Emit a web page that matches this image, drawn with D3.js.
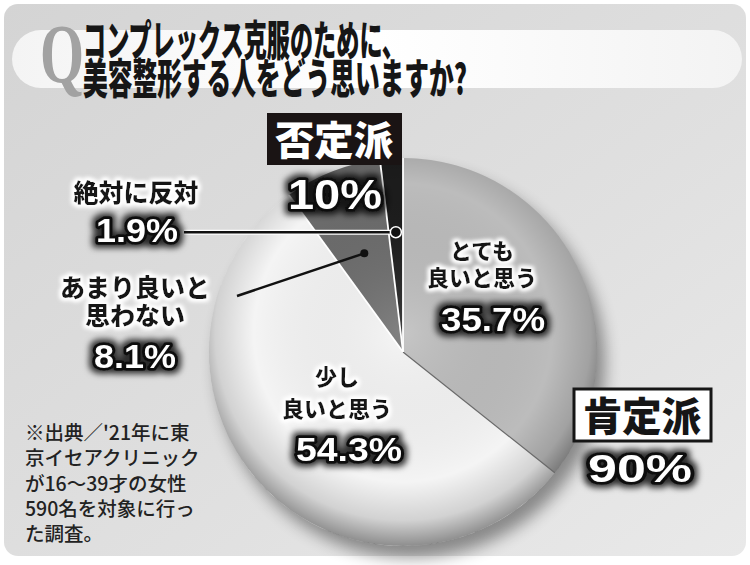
<!DOCTYPE html>
<html>
<head>
<meta charset="utf-8">
<script src="https://cdn.jsdelivr.net/npm/d3@7"></script>
<style>
  body { margin: 0; background: #fff; }
  svg { display: block; }
</style>
</head>
<body>
<div id="chart"></div>
<script>
// Chart data
var categories = ["とても良いと思う", "少し良いと思う", "あまり良いと思わない", "絶対に反対"];
var values = [35.7, 54.3, 8.1, 1.9];
var sliceColors = ["#bcbcbc", "#f4f4f4", "#6c6c6c", "#1c1c1c"];
var groupNames = ["肯定派", "否定派"];
var groupValues = [90, 10];
var titleLines = ["コンプレックス克服のために、", "美容整形する人をどう思いますか?"];
var noteLines = ["※出典／'21年に東", "京イセアクリニック", "が16～39才の女性", "590名を対象に行っ", "た調査。"];

var width = 750, height = 565;
var cx = 403, cy = 352, radius = 194;
var jp = "'Noto Sans CJK JP', 'Noto Sans', sans-serif";
var num = "'Liberation Sans', Arial, sans-serif";

var svg = d3.select("#chart").append("svg")
  .attr("width", width)
  .attr("height", height);

var defs = svg.append("defs");

// background gradient
var bgGrad = defs.append("linearGradient").attr("id", "bg")
  .attr("x1", "0%").attr("y1", "0%").attr("x2", "100%").attr("y2", "100%");
bgGrad.append("stop").attr("offset", "0%").attr("stop-color", "#d4d4d4");
bgGrad.append("stop").attr("offset", "60%").attr("stop-color", "#e0e0e0");
bgGrad.append("stop").attr("offset", "100%").attr("stop-color", "#e9e9e9");

var pillGrad = defs.append("linearGradient").attr("id", "pill")
  .attr("x1", "0%").attr("y1", "0%").attr("x2", "100%").attr("y2", "0%");
pillGrad.append("stop").attr("offset", "0%").attr("stop-color", "#f4f4f4");
pillGrad.append("stop").attr("offset", "50%").attr("stop-color", "#ffffff");
pillGrad.append("stop").attr("offset", "100%").attr("stop-color", "#f3f3f3");

// pie shading overlay
var shade = defs.append("radialGradient").attr("id", "shade")
  .attr("cx", "50%").attr("cy", "45%").attr("r", "55%");
shade.append("stop").attr("offset", "0%").attr("stop-color", "#fff").attr("stop-opacity", 0.15);
shade.append("stop").attr("offset", "70%").attr("stop-color", "#000").attr("stop-opacity", 0);
shade.append("stop").attr("offset", "88%").attr("stop-color", "#000").attr("stop-opacity", 0.14);
shade.append("stop").attr("offset", "100%").attr("stop-color", "#000").attr("stop-opacity", 0.42);

var blur = defs.append("filter").attr("id", "blur")
  .attr("x", "-20%").attr("y", "-20%").attr("width", "140%").attr("height", "140%");
blur.append("feGaussianBlur").attr("stdDeviation", 8);

// white halo for black labels
var haloW = defs.append("filter").attr("id", "haloW")
  .attr("x", "-20%").attr("y", "-50%").attr("width", "140%").attr("height", "200%");
haloW.append("feMorphology").attr("in", "SourceAlpha").attr("operator", "dilate").attr("radius", 1.5).attr("result", "d");
haloW.append("feGaussianBlur").attr("in", "d").attr("stdDeviation", 2).attr("result", "b");
haloW.append("feFlood").attr("flood-color", "#fff");
haloW.append("feComposite").attr("in2", "b").attr("operator", "in").attr("result", "g");
var mw = haloW.append("feMerge");
mw.append("feMergeNode").attr("in", "g");
mw.append("feMergeNode").attr("in", "g");
mw.append("feMergeNode").attr("in", "SourceGraphic");

// dark glow for white numbers
var haloK = defs.append("filter").attr("id", "haloK")
  .attr("x", "-20%").attr("y", "-50%").attr("width", "140%").attr("height", "200%");
haloK.append("feMorphology").attr("in", "SourceAlpha").attr("operator", "dilate").attr("radius", 2.5).attr("result", "d");
haloK.append("feGaussianBlur").attr("in", "d").attr("stdDeviation", 3).attr("result", "b");
haloK.append("feFlood").attr("flood-color", "#000").attr("flood-opacity", 0.8);
haloK.append("feComposite").attr("in2", "b").attr("operator", "in").attr("result", "g");
var mk = haloK.append("feMerge");
mk.append("feMergeNode").attr("in", "g");
mk.append("feMergeNode").attr("in", "SourceGraphic");

// background panel and title band
svg.append("rect")
  .attr("x", 4).attr("y", 4).attr("width", 742).attr("height", 552)
  .attr("rx", 14).attr("fill", "url(#bg)");

svg.append("rect")
  .attr("x", 12).attr("y", 30).attr("width", 730).attr("height", 58)
  .attr("rx", 29).attr("fill", "url(#pill)");

svg.append("text")
  .attr("x", 40).attr("y", 83)
  .attr("font-family", "'Liberation Serif', 'DejaVu Serif', serif")
  .attr("font-weight", 700)
  .attr("font-size", 84)
  .attr("textLength", 44).attr("lengthAdjust", "spacingAndGlyphs")
  .attr("fill", "#a2a2a2")
  .text("Q");

var titleWidths = [322, 384];
svg.selectAll(".title")
  .data(titleLines)
  .enter().append("text")
  .attr("class", "title")
  .attr("x", 83)
  .attr("y", (d, i) => 56 + i * 38)
  .attr("font-family", jp)
  .attr("font-weight", 900)
  .attr("font-size", 42)
  .attr("textLength", (d, i) => titleWidths[i])
  .attr("lengthAdjust", "spacingAndGlyphs")
  .attr("fill", "#161616")
  .text(d => d);

// pie
var pie = d3.pie().sort(null).value(d => d);
var arcs = pie(values);
var arc = d3.arc().innerRadius(0).outerRadius(radius);

var pieG = svg.append("g").attr("transform", `translate(${cx},${cy})`);

pieG.append("circle")
  .attr("cx", 8).attr("cy", 12).attr("r", radius)
  .attr("fill", "#000").attr("opacity", 0.4)
  .attr("filter", "url(#blur)");

pieG.selectAll(".slice")
  .data(arcs)
  .enter().append("path")
  .attr("class", "slice")
  .attr("d", arc)
  .attr("fill", (d, i) => sliceColors[i]);

pieG.append("circle")
  .attr("r", radius)
  .attr("fill", "url(#shade)");

// slice boundaries
var edgeColors = ["#ffffff", "#6a6a6a", "#ffffff", "#ffffff"];
pieG.selectAll(".edge")
  .data(arcs)
  .enter().append("line")
  .attr("class", "edge")
  .attr("x1", 0).attr("y1", 0)
  .attr("x2", d => Math.sin(d.startAngle) * radius)
  .attr("y2", d => -Math.cos(d.startAngle) * radius)
  .attr("stroke", (d, i) => edgeColors[i])
  .attr("stroke-width", (d, i) => i === 1 ? 1.2 : 1.8);

// leader lines for the small slices
var dot19 = d3.arc().innerRadius(120).outerRadius(120).centroid(arcs[3]);
var dot81 = d3.arc().innerRadius(106).outerRadius(106).centroid(arcs[2]);

pieG.append("line")
  .attr("x1", 184 - cx).attr("y1", dot19[1])
  .attr("x2", dot19[0]).attr("y2", dot19[1])
  .attr("stroke", "#fff").attr("stroke-width", 5);
pieG.append("line")
  .attr("x1", 184 - cx).attr("y1", dot19[1])
  .attr("x2", dot19[0]).attr("y2", dot19[1])
  .attr("stroke", "#111").attr("stroke-width", 2.5);
pieG.append("line")
  .attr("x1", 237 - cx).attr("y1", 296 - cy)
  .attr("x2", dot81[0]).attr("y2", dot81[1])
  .attr("stroke", "#111").attr("stroke-width", 2.5);
pieG.append("circle")
  .attr("cx", dot19[0]).attr("cy", dot19[1]).attr("r", 5.5)
  .attr("fill", "#111").attr("stroke", "#fff").attr("stroke-width", 1.5);
pieG.append("circle")
  .attr("cx", dot81[0]).attr("cy", dot81[1]).attr("r", 4)
  .attr("fill", "#111");

// labels
function label(lines, x, y, size, gap) {
  var t = svg.append("text")
    .attr("font-family", jp).attr("font-weight", 900)
    .attr("font-size", size).attr("fill", "#161616")
    .attr("text-anchor", "middle")
    .attr("filter", "url(#haloW)");
  lines.forEach(function(s, i) {
    t.append("tspan").attr("x", x).attr("y", y + i * gap).text(s);
  });
}

function pct(v, x, y, size, len) {
  svg.append("text")
    .attr("x", x).attr("y", y)
    .attr("font-family", num).attr("font-weight", 700)
    .attr("font-size", size)
    .attr("text-anchor", "middle")
    .attr("textLength", len).attr("lengthAdjust", "spacingAndGlyphs")
    .attr("fill", "#fff")
    .attr("stroke", "#111").attr("stroke-width", 5.5)
    .attr("stroke-linejoin", "round")
    .attr("paint-order", "stroke")
    .attr("filter", "url(#haloK)")
    .text(v + "%");
}

label(["とても", "良いと思う"], 482, 259, 22, 27);
pct(values[0], 493, 331, 33, 104);

label(["少し", "良いと思う"], 337, 385, 22, 32);
pct(values[1], 349, 461, 33, 106);

label(["あまり良いと", "思わない"], 135, 297, 25, 28);
pct(values[2], 135, 368, 33, 82);

label(["絶対に反対"], 136, 202, 25, 0);
pct(values[3], 137, 242, 33, 82);

// group boxes
svg.append("rect")
  .attr("x", 267).attr("y", 113).attr("width", 135).attr("height", 52)
  .attr("fill", "#1a1414");
svg.append("text")
  .attr("x", 334).attr("y", 155)
  .attr("font-family", jp).attr("font-weight", 900).attr("font-size", 40)
  .attr("text-anchor", "middle").attr("fill", "#fff")
  .attr("textLength", 118).attr("lengthAdjust", "spacingAndGlyphs")
  .text(groupNames[1]);
pct(groupValues[1], 335, 209, 42, 94);

svg.append("rect")
  .attr("x", 574).attr("y", 389).attr("width", 137).attr("height", 52)
  .attr("fill", "#fff").attr("stroke", "#161616").attr("stroke-width", 3);
svg.append("text")
  .attr("x", 642).attr("y", 431)
  .attr("font-family", jp).attr("font-weight", 900).attr("font-size", 40)
  .attr("text-anchor", "middle").attr("fill", "#161616")
  .attr("textLength", 118).attr("lengthAdjust", "spacingAndGlyphs")
  .text(groupNames[0]);
pct(groupValues[0], 640, 482, 38, 104);

// source note
svg.selectAll(".note")
  .data(noteLines)
  .enter().append("text")
  .attr("class", "note")
  .attr("x", 25)
  .attr("y", (d, i) => 440 + i * 25.3)
  .attr("font-family", jp).attr("font-weight", 500)
  .attr("font-size", 19.5)
  .attr("fill", "#222")
  .text(d => d);
</script>
</body>
</html>
